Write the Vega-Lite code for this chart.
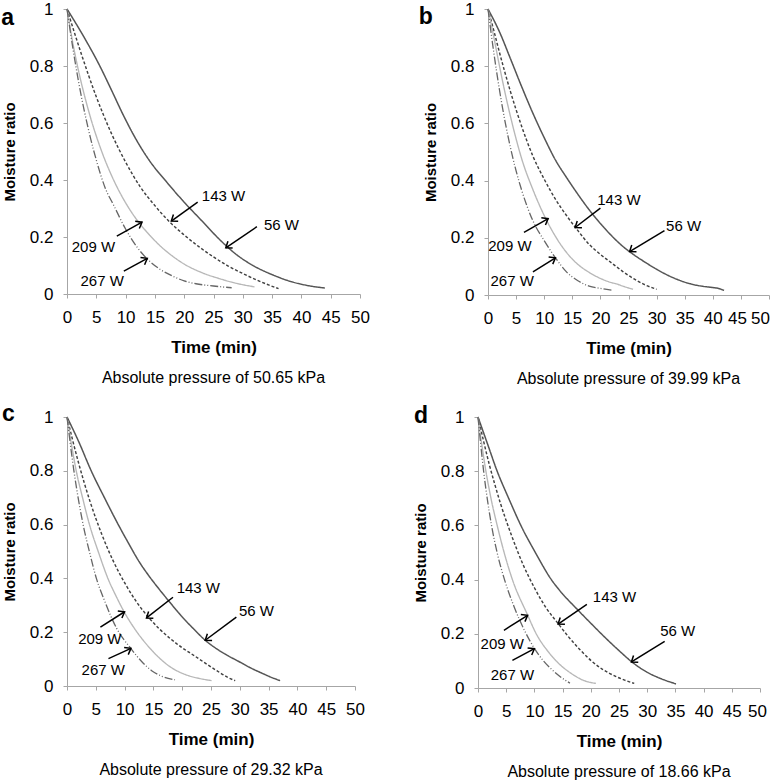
{
"$schema": "https://vega.github.io/schema/vega-lite/v6.json",
"padding": {"top": 0, "left": 1, "right": 0, "bottom": 0},
"config": {
  "font": "Liberation Sans",
  "view": {"stroke": null},
  "axis": {"grid": false, "domainColor": "#a6a6a6", "tickColor": "#a6a6a6", "tickSize": 4, "labelFontSize": 17, "labelColor": "#000", "labelFont": "Liberation Sans", "titleFont": "Liberation Sans", "titleFontSize": 17, "titleFontWeight": "bold", "titleColor": "#000", "labelFlush": false, "labelOverlap": false},
  "axisX": {"labelPadding": 11, "titlePadding": 14, "tickCount": 11, "labelOverlap": false},
  "axisY": {"labelPadding": 10, "titlePadding": 12, "titleFontSize": 15, "tickCount": 6, "labelOverlap": false},
  "title": {"font": "Liberation Sans", "fontSize": 16, "fontWeight": "normal", "color": "#000"}
},
"datasets": {
"curves": [
{"p":"a","s":"56 W","t":0,"mr":1},{"p":"a","s":"56 W","t":2.8,"mr":0.905},{"p":"a","s":"56 W","t":5.6,"mr":0.8},{"p":"a","s":"56 W","t":7.6,"mr":0.715},{"p":"a","s":"56 W","t":9.6,"mr":0.628},{"p":"a","s":"56 W","t":12,"mr":0.535},{"p":"a","s":"56 W","t":14,"mr":0.47},{"p":"a","s":"56 W","t":17,"mr":0.393},{"p":"a","s":"56 W","t":20,"mr":0.322},{"p":"a","s":"56 W","t":23,"mr":0.257},{"p":"a","s":"56 W","t":26,"mr":0.192},{"p":"a","s":"56 W","t":29,"mr":0.137},{"p":"a","s":"56 W","t":32,"mr":0.097},{"p":"a","s":"56 W","t":35,"mr":0.068},{"p":"a","s":"56 W","t":38,"mr":0.045},{"p":"a","s":"56 W","t":41,"mr":0.03},{"p":"a","s":"56 W","t":44,"mr":0.021},
{"p":"a","s":"143 W","t":0,"mr":1},{"p":"a","s":"143 W","t":2.5,"mr":0.839},{"p":"a","s":"143 W","t":5,"mr":0.692},{"p":"a","s":"143 W","t":7.5,"mr":0.567},{"p":"a","s":"143 W","t":10,"mr":0.463},{"p":"a","s":"143 W","t":12.5,"mr":0.376},{"p":"a","s":"143 W","t":15,"mr":0.31},{"p":"a","s":"143 W","t":17.5,"mr":0.253},{"p":"a","s":"143 W","t":20,"mr":0.207},{"p":"a","s":"143 W","t":22.5,"mr":0.166},{"p":"a","s":"143 W","t":25,"mr":0.13},{"p":"a","s":"143 W","t":27.5,"mr":0.098},{"p":"a","s":"143 W","t":30,"mr":0.072},{"p":"a","s":"143 W","t":32.5,"mr":0.048},{"p":"a","s":"143 W","t":34.5,"mr":0.031},{"p":"a","s":"143 W","t":36.1,"mr":0.019},
{"p":"a","s":"209 W","t":0,"mr":1},{"p":"a","s":"209 W","t":1,"mr":0.88},{"p":"a","s":"209 W","t":2,"mr":0.78},{"p":"a","s":"209 W","t":3,"mr":0.695},{"p":"a","s":"209 W","t":4,"mr":0.62},{"p":"a","s":"209 W","t":6,"mr":0.496},{"p":"a","s":"209 W","t":8,"mr":0.398},{"p":"a","s":"209 W","t":10,"mr":0.32},{"p":"a","s":"209 W","t":12,"mr":0.258},{"p":"a","s":"209 W","t":14,"mr":0.209},{"p":"a","s":"209 W","t":16,"mr":0.167},{"p":"a","s":"209 W","t":18,"mr":0.133},{"p":"a","s":"209 W","t":20,"mr":0.105},{"p":"a","s":"209 W","t":23,"mr":0.075},{"p":"a","s":"209 W","t":26,"mr":0.054},{"p":"a","s":"209 W","t":29,"mr":0.037},{"p":"a","s":"209 W","t":32,"mr":0.025},
{"p":"a","s":"267 W","t":0,"mr":1},{"p":"a","s":"267 W","t":1,"mr":0.863},{"p":"a","s":"267 W","t":2,"mr":0.742},{"p":"a","s":"267 W","t":3,"mr":0.638},{"p":"a","s":"267 W","t":4,"mr":0.548},{"p":"a","s":"267 W","t":5,"mr":0.47},{"p":"a","s":"267 W","t":6.5,"mr":0.373},{"p":"a","s":"267 W","t":8,"mr":0.31},{"p":"a","s":"267 W","t":10,"mr":0.228},{"p":"a","s":"267 W","t":12,"mr":0.163},{"p":"a","s":"267 W","t":14,"mr":0.117},{"p":"a","s":"267 W","t":16,"mr":0.085},{"p":"a","s":"267 W","t":18,"mr":0.063},{"p":"a","s":"267 W","t":20,"mr":0.046},{"p":"a","s":"267 W","t":22,"mr":0.036},{"p":"a","s":"267 W","t":25,"mr":0.028},{"p":"a","s":"267 W","t":28.1,"mr":0.022},
{"p":"b","s":"56 W","t":0,"mr":1},{"p":"b","s":"56 W","t":2,"mr":0.922},{"p":"b","s":"56 W","t":4,"mr":0.826},{"p":"b","s":"56 W","t":6,"mr":0.728},{"p":"b","s":"56 W","t":8,"mr":0.635},{"p":"b","s":"56 W","t":10,"mr":0.55},{"p":"b","s":"56 W","t":12,"mr":0.472},{"p":"b","s":"56 W","t":14,"mr":0.41},{"p":"b","s":"56 W","t":16,"mr":0.352},{"p":"b","s":"56 W","t":18,"mr":0.298},{"p":"b","s":"56 W","t":20,"mr":0.25},{"p":"b","s":"56 W","t":22,"mr":0.207},{"p":"b","s":"56 W","t":24,"mr":0.17},{"p":"b","s":"56 W","t":26,"mr":0.14},{"p":"b","s":"56 W","t":28,"mr":0.114},{"p":"b","s":"56 W","t":30,"mr":0.09},{"p":"b","s":"56 W","t":32,"mr":0.069},{"p":"b","s":"56 W","t":34,"mr":0.052},{"p":"b","s":"56 W","t":36,"mr":0.039},{"p":"b","s":"56 W","t":38,"mr":0.031},{"p":"b","s":"56 W","t":40,"mr":0.026},{"p":"b","s":"56 W","t":41,"mr":0.023},{"p":"b","s":"56 W","t":42,"mr":0.016},
{"p":"b","s":"143 W","t":0,"mr":1},{"p":"b","s":"143 W","t":1,"mr":0.927},{"p":"b","s":"143 W","t":2,"mr":0.851},{"p":"b","s":"143 W","t":3,"mr":0.779},{"p":"b","s":"143 W","t":4,"mr":0.711},{"p":"b","s":"143 W","t":6,"mr":0.589},{"p":"b","s":"143 W","t":8,"mr":0.485},{"p":"b","s":"143 W","t":10,"mr":0.405},{"p":"b","s":"143 W","t":12,"mr":0.335},{"p":"b","s":"143 W","t":14,"mr":0.277},{"p":"b","s":"143 W","t":16,"mr":0.225},{"p":"b","s":"143 W","t":18,"mr":0.177},{"p":"b","s":"143 W","t":20,"mr":0.142},{"p":"b","s":"143 W","t":22,"mr":0.112},{"p":"b","s":"143 W","t":24,"mr":0.082},{"p":"b","s":"143 W","t":26,"mr":0.056},{"p":"b","s":"143 W","t":28,"mr":0.035},{"p":"b","s":"143 W","t":30,"mr":0.02},
{"p":"b","s":"209 W","t":0,"mr":1},{"p":"b","s":"209 W","t":1,"mr":0.905},{"p":"b","s":"209 W","t":2,"mr":0.805},{"p":"b","s":"209 W","t":3,"mr":0.71},{"p":"b","s":"209 W","t":4,"mr":0.624},{"p":"b","s":"209 W","t":5,"mr":0.546},{"p":"b","s":"209 W","t":6,"mr":0.476},{"p":"b","s":"209 W","t":8,"mr":0.368},{"p":"b","s":"209 W","t":10,"mr":0.278},{"p":"b","s":"209 W","t":12,"mr":0.205},{"p":"b","s":"209 W","t":14,"mr":0.148},{"p":"b","s":"209 W","t":16,"mr":0.107},{"p":"b","s":"209 W","t":18,"mr":0.079},{"p":"b","s":"209 W","t":20,"mr":0.058},{"p":"b","s":"209 W","t":22,"mr":0.043},{"p":"b","s":"209 W","t":23,"mr":0.038},{"p":"b","s":"209 W","t":24,"mr":0.031},{"p":"b","s":"209 W","t":25.8,"mr":0.02},
{"p":"b","s":"267 W","t":0,"mr":1},{"p":"b","s":"267 W","t":1,"mr":0.852},{"p":"b","s":"267 W","t":2,"mr":0.722},{"p":"b","s":"267 W","t":3,"mr":0.61},{"p":"b","s":"267 W","t":4,"mr":0.515},{"p":"b","s":"267 W","t":5,"mr":0.434},{"p":"b","s":"267 W","t":6,"mr":0.366},{"p":"b","s":"267 W","t":8,"mr":0.259},{"p":"b","s":"267 W","t":10,"mr":0.19},{"p":"b","s":"267 W","t":12,"mr":0.13},{"p":"b","s":"267 W","t":14,"mr":0.08},{"p":"b","s":"267 W","t":16,"mr":0.05},{"p":"b","s":"267 W","t":18,"mr":0.031},{"p":"b","s":"267 W","t":20,"mr":0.023},{"p":"b","s":"267 W","t":22,"mr":0.017},
{"p":"c","s":"56 W","t":0,"mr":1},{"p":"c","s":"56 W","t":2,"mr":0.91},{"p":"c","s":"56 W","t":4.2,"mr":0.8},{"p":"c","s":"56 W","t":6.5,"mr":0.7},{"p":"c","s":"56 W","t":8.9,"mr":0.6},{"p":"c","s":"56 W","t":10.7,"mr":0.53},{"p":"c","s":"56 W","t":12.5,"mr":0.463},{"p":"c","s":"56 W","t":14.2,"mr":0.41},{"p":"c","s":"56 W","t":15.85,"mr":0.364},{"p":"c","s":"56 W","t":17.9,"mr":0.31},{"p":"c","s":"56 W","t":19.9,"mr":0.259},{"p":"c","s":"56 W","t":22,"mr":0.212},{"p":"c","s":"56 W","t":24,"mr":0.17},{"p":"c","s":"56 W","t":26,"mr":0.138},{"p":"c","s":"56 W","t":28,"mr":0.112},{"p":"c","s":"56 W","t":29.75,"mr":0.092},{"p":"c","s":"56 W","t":32,"mr":0.066},{"p":"c","s":"56 W","t":33.8,"mr":0.048},{"p":"c","s":"56 W","t":35.5,"mr":0.032},{"p":"c","s":"56 W","t":37,"mr":0.02},
{"p":"c","s":"143 W","t":0,"mr":1},{"p":"c","s":"143 W","t":1,"mr":0.912},{"p":"c","s":"143 W","t":2,"mr":0.83},{"p":"c","s":"143 W","t":3,"mr":0.755},{"p":"c","s":"143 W","t":4,"mr":0.686},{"p":"c","s":"143 W","t":6,"mr":0.566},{"p":"c","s":"143 W","t":8,"mr":0.466},{"p":"c","s":"143 W","t":10,"mr":0.384},{"p":"c","s":"143 W","t":12,"mr":0.315},{"p":"c","s":"143 W","t":14,"mr":0.259},{"p":"c","s":"143 W","t":16,"mr":0.213},{"p":"c","s":"143 W","t":18,"mr":0.175},{"p":"c","s":"143 W","t":20,"mr":0.142},{"p":"c","s":"143 W","t":22,"mr":0.114},{"p":"c","s":"143 W","t":24,"mr":0.085},{"p":"c","s":"143 W","t":26,"mr":0.057},{"p":"c","s":"143 W","t":28,"mr":0.031},{"p":"c","s":"143 W","t":29.2,"mr":0.02},
{"p":"c","s":"209 W","t":0,"mr":1},{"p":"c","s":"209 W","t":1,"mr":0.87},{"p":"c","s":"209 W","t":1.6,"mr":0.8},{"p":"c","s":"209 W","t":2.7,"mr":0.7},{"p":"c","s":"209 W","t":3.9,"mr":0.6},{"p":"c","s":"209 W","t":5.5,"mr":0.495},{"p":"c","s":"209 W","t":7.1,"mr":0.4},{"p":"c","s":"209 W","t":8.5,"mr":0.335},{"p":"c","s":"209 W","t":10.07,"mr":0.27},{"p":"c","s":"209 W","t":12,"mr":0.205},{"p":"c","s":"209 W","t":14,"mr":0.15},{"p":"c","s":"209 W","t":16,"mr":0.105},{"p":"c","s":"209 W","t":18,"mr":0.07},{"p":"c","s":"209 W","t":20.5,"mr":0.043},{"p":"c","s":"209 W","t":23,"mr":0.028},{"p":"c","s":"209 W","t":25.1,"mr":0.02},
{"p":"c","s":"267 W","t":0,"mr":1},{"p":"c","s":"267 W","t":1.2,"mr":0.8},{"p":"c","s":"267 W","t":2.8,"mr":0.6},{"p":"c","s":"267 W","t":4,"mr":0.49},{"p":"c","s":"267 W","t":5.1,"mr":0.4},{"p":"c","s":"267 W","t":6.5,"mr":0.318},{"p":"c","s":"267 W","t":8.6,"mr":0.215},{"p":"c","s":"267 W","t":11.1,"mr":0.139},{"p":"c","s":"267 W","t":13,"mr":0.09},{"p":"c","s":"267 W","t":14.7,"mr":0.057},{"p":"c","s":"267 W","t":16.5,"mr":0.036},{"p":"c","s":"267 W","t":18.75,"mr":0.023},
{"p":"d","s":"56 W","t":0,"mr":1},{"p":"d","s":"56 W","t":1.7,"mr":0.9},{"p":"d","s":"56 W","t":3.4,"mr":0.8},{"p":"d","s":"56 W","t":5.5,"mr":0.697},{"p":"d","s":"56 W","t":7.6,"mr":0.6},{"p":"d","s":"56 W","t":10.3,"mr":0.495},{"p":"d","s":"56 W","t":13,"mr":0.4},{"p":"d","s":"56 W","t":14.4,"mr":0.362},{"p":"d","s":"56 W","t":17.7,"mr":0.288},{"p":"d","s":"56 W","t":20,"mr":0.239},{"p":"d","s":"56 W","t":22.5,"mr":0.187},{"p":"d","s":"56 W","t":25,"mr":0.138},{"p":"d","s":"56 W","t":27.3,"mr":0.096},{"p":"d","s":"56 W","t":30,"mr":0.058},{"p":"d","s":"56 W","t":32.5,"mr":0.034},{"p":"d","s":"56 W","t":35.1,"mr":0.015},
{"p":"d","s":"143 W","t":0,"mr":1},{"p":"d","s":"143 W","t":1,"mr":0.91},{"p":"d","s":"143 W","t":2,"mr":0.825},{"p":"d","s":"143 W","t":3,"mr":0.75},{"p":"d","s":"143 W","t":4,"mr":0.68},{"p":"d","s":"143 W","t":6,"mr":0.56},{"p":"d","s":"143 W","t":8,"mr":0.455},{"p":"d","s":"143 W","t":10,"mr":0.37},{"p":"d","s":"143 W","t":12,"mr":0.298},{"p":"d","s":"143 W","t":14.2,"mr":0.238},{"p":"d","s":"143 W","t":16,"mr":0.19},{"p":"d","s":"143 W","t":18,"mr":0.143},{"p":"d","s":"143 W","t":20,"mr":0.102},{"p":"d","s":"143 W","t":22,"mr":0.07},{"p":"d","s":"143 W","t":24.5,"mr":0.042},{"p":"d","s":"143 W","t":26,"mr":0.029},{"p":"d","s":"143 W","t":27.7,"mr":0.017},
{"p":"d","s":"209 W","t":0,"mr":1},{"p":"d","s":"209 W","t":1.4,"mr":0.8},{"p":"d","s":"209 W","t":2.3,"mr":0.7},{"p":"d","s":"209 W","t":3.4,"mr":0.6},{"p":"d","s":"209 W","t":4.7,"mr":0.495},{"p":"d","s":"209 W","t":6.1,"mr":0.4},{"p":"d","s":"209 W","t":8.8,"mr":0.269},{"p":"d","s":"209 W","t":10.2,"mr":0.205},{"p":"d","s":"209 W","t":12.6,"mr":0.13},{"p":"d","s":"209 W","t":14.1,"mr":0.095},{"p":"d","s":"209 W","t":16.8,"mr":0.05},{"p":"d","s":"209 W","t":18.5,"mr":0.03},{"p":"d","s":"209 W","t":20.9,"mr":0.017},
{"p":"d","s":"267 W","t":0,"mr":1},{"p":"d","s":"267 W","t":1,"mr":0.8},{"p":"d","s":"267 W","t":2.4,"mr":0.6},{"p":"d","s":"267 W","t":3.5,"mr":0.49},{"p":"d","s":"267 W","t":4.7,"mr":0.4},{"p":"d","s":"267 W","t":6.4,"mr":0.3},{"p":"d","s":"267 W","t":8.3,"mr":0.21},{"p":"d","s":"267 W","t":10,"mr":0.146},{"p":"d","s":"267 W","t":11.6,"mr":0.1},{"p":"d","s":"267 W","t":13.2,"mr":0.066},{"p":"d","s":"267 W","t":14.7,"mr":0.04},{"p":"d","s":"267 W","t":16.3,"mr":0.018}
],
"notes": [
{"p":"a","label":"143 W","lx":26.7,"ly":0.343,"x1":22.3,"y1":0.322,"x2":17.8,"y2":0.256,"dir":"dl"},
{"p":"a","label":"56 W","lx":36.6,"ly":0.243,"x1":32.4,"y1":0.236,"x2":27.1,"y2":0.162,"dir":"dl"},
{"p":"a","label":"209 W","lx":4.5,"ly":0.164,"x1":8.5,"y1":0.203,"x2":12.8,"y2":0.252,"dir":"ur"},
{"p":"a","label":"267 W","lx":6.0,"ly":0.047,"x1":9.7,"y1":0.08,"x2":13.7,"y2":0.125,"dir":"ur"},
{"p":"b","label":"143 W","lx":23.3,"ly":0.333,"x1":20.0,"y1":0.304,"x2":15.5,"y2":0.236,"dir":"dl"},
{"p":"b","label":"56 W","lx":34.8,"ly":0.24,"x1":31.4,"y1":0.225,"x2":25.2,"y2":0.152,"dir":"dl"},
{"p":"b","label":"209 W","lx":3.9,"ly":0.173,"x1":6.4,"y1":0.219,"x2":10.7,"y2":0.267,"dir":"ur"},
{"p":"b","label":"267 W","lx":4.3,"ly":0.049,"x1":8.0,"y1":0.081,"x2":12.0,"y2":0.13,"dir":"ur"},
{"p":"c","label":"143 W","lx":22.8,"ly":0.364,"x1":18.4,"y1":0.33,"x2":13.8,"y2":0.253,"dir":"dl"},
{"p":"c","label":"56 W","lx":32.9,"ly":0.278,"x1":29.4,"y1":0.256,"x2":24.0,"y2":0.17,"dir":"dl"},
{"p":"c","label":"209 W","lx":5.7,"ly":0.175,"x1":5.8,"y1":0.219,"x2":10.0,"y2":0.276,"dir":"ur"},
{"p":"c","label":"267 W","lx":6.3,"ly":0.059,"x1":7.2,"y1":0.102,"x2":11.1,"y2":0.14,"dir":"ur"},
{"p":"d","label":"143 W","lx":24.2,"ly":0.336,"x1":19.3,"y1":0.309,"x2":14.2,"y2":0.236,"dir":"dl"},
{"p":"d","label":"56 W","lx":35.4,"ly":0.21,"x1":33.1,"y1":0.172,"x2":27.2,"y2":0.096,"dir":"dl"},
{"p":"d","label":"209 W","lx":4.3,"ly":0.164,"x1":4.6,"y1":0.213,"x2":8.8,"y2":0.268,"dir":"ur"},
{"p":"d","label":"267 W","lx":6.1,"ly":0.047,"x1":6.1,"y1":0.102,"x2":10.0,"y2":0.145,"dir":"ur"}
],
"tags": [
{"p":"a","tag":"a","x":-11.2,"y":0.945},
{"p":"b","tag":"b","x":-12.3,"y":0.948},
{"p":"c","tag":"c","x":-11.3,"y":0.985},
{"p":"d","tag":"d","x":-11.35,"y":0.978}
]
},
"resolve": {"scale": {"x": "independent", "y": "independent"}},
"spacing": 16,
"vconcat": [
{"hconcat": [
{"width": 293, "height": 285,
 "title": {"text": "Absolute pressure of 50.65 kPa", "orient": "bottom", "anchor": "middle", "frame": "group", "offset": 15},
 "layer": [
  {"data": {"name": "curves"}, "transform": [{"filter": "datum.p === 'a'"}],
   "mark": {"type": "line", "interpolate": "monotone"},
   "encoding": {
    "x": {"field": "t", "type": "quantitative", "title": "Time (min)", "scale": {"domain": [0, 50], "nice": false}},
    "y": {"field": "mr", "type": "quantitative", "title": "Moisture ratio", "scale": {"domain": [0, 1], "nice": false}, "axis": {"format": "~g"}},
    "detail": {"field": "s"},
    "color": {"field": "s", "type": "nominal", "legend": null, "scale": {"domain": ["56 W","143 W","209 W","267 W"], "range": ["#555555","#404040","#b8b8b8","#666666"]}},
    "strokeDash": {"field": "s", "type": "nominal", "legend": null, "scale": {"domain": ["56 W","143 W","209 W","267 W"], "range": [[1,0],[3,2],[1,0],[8,2,1,2,1,2]]}},
    "strokeWidth": {"field": "s", "type": "nominal", "legend": null, "scale": {"domain": ["56 W","143 W","209 W","267 W"], "range": [1.5,1.3,1.1,1.4]}}
   }},
  {"data": {"name": "notes"}, "transform": [{"filter": "datum.p === 'a'"}],
   "mark": {"type": "rule", "color": "#000", "strokeWidth": 1.5},
   "encoding": {"x": {"field": "x1", "type": "quantitative", "title": "Time (min)"}, "y": {"field": "y1", "type": "quantitative", "title": "Moisture ratio", "axis": {"format": "~g"}}, "x2": {"field": "x2"}, "y2": {"field": "y2"}}},
  {"data": {"name": "notes"}, "transform": [{"filter": "datum.p === 'a' && datum.dir === 'dl'"}],
   "mark": {"type": "point", "shape": "M-1,-0.75L0,0L-1,0.75", "filled": false, "stroke": "#000", "strokeWidth": 1.5, "size": 120, "angle": 145, "opacity": 1},
   "encoding": {"x": {"field": "x2", "type": "quantitative", "title": "Time (min)"}, "y": {"field": "y2", "type": "quantitative", "title": "Moisture ratio", "axis": {"format": "~g"}}}},
  {"data": {"name": "notes"}, "transform": [{"filter": "datum.p === 'a' && datum.dir === 'ur'"}],
   "mark": {"type": "point", "shape": "M-1,-0.75L0,0L-1,0.75", "filled": false, "stroke": "#000", "strokeWidth": 1.5, "size": 120, "angle": 330, "opacity": 1},
   "encoding": {"x": {"field": "x2", "type": "quantitative", "title": "Time (min)"}, "y": {"field": "y2", "type": "quantitative", "title": "Moisture ratio", "axis": {"format": "~g"}}}},
  {"data": {"name": "notes"}, "transform": [{"filter": "datum.p === 'a'"}],
   "mark": {"type": "text", "fontSize": 15, "color": "#000"},
   "encoding": {"x": {"field": "lx", "type": "quantitative", "title": "Time (min)"}, "y": {"field": "ly", "type": "quantitative", "title": "Moisture ratio", "axis": {"format": "~g"}}, "text": {"field": "label"}}},
  {"data": {"name": "tags"}, "transform": [{"filter": "datum.p === 'a'"}],
   "mark": {"type": "text", "fontSize": 23, "fontWeight": "bold", "align": "left", "baseline": "alphabetic", "color": "#000"},
   "encoding": {"x": {"field": "x", "type": "quantitative", "title": "Time (min)"}, "y": {"field": "y", "type": "quantitative", "title": "Moisture ratio", "axis": {"format": "~g"}}, "text": {"field": "tag"}}}
 ]},
{"width": 281, "height": 286,
 "title": {"text": "Absolute pressure of 39.99 kPa", "orient": "bottom", "anchor": "middle", "frame": "group", "offset": 15},
 "layer": [
  {"data": {"name": "curves"}, "transform": [{"filter": "datum.p === 'b'"}],
   "mark": {"type": "line", "interpolate": "monotone"},
   "encoding": {
    "x": {"field": "t", "type": "quantitative", "title": "Time (min)", "scale": {"domain": [0, 50], "nice": false}, "axis": {"labelOffset": {"condition": [{"test": "datum.value >= 50", "value": -9}, {"test": "datum.value >= 45", "value": -4}], "value": 0}}},
    "y": {"field": "mr", "type": "quantitative", "title": "Moisture ratio", "scale": {"domain": [0, 1], "nice": false}, "axis": {"format": "~g"}},
    "detail": {"field": "s"},
    "color": {"field": "s", "type": "nominal", "legend": null, "scale": {"domain": ["56 W","143 W","209 W","267 W"], "range": ["#555555","#404040","#b8b8b8","#666666"]}},
    "strokeDash": {"field": "s", "type": "nominal", "legend": null, "scale": {"domain": ["56 W","143 W","209 W","267 W"], "range": [[1,0],[3,2],[1,0],[8,2,1,2,1,2]]}},
    "strokeWidth": {"field": "s", "type": "nominal", "legend": null, "scale": {"domain": ["56 W","143 W","209 W","267 W"], "range": [1.5,1.3,1.1,1.4]}}
   }},
  {"data": {"name": "notes"}, "transform": [{"filter": "datum.p === 'b'"}],
   "mark": {"type": "rule", "color": "#000", "strokeWidth": 1.5},
   "encoding": {"x": {"field": "x1", "type": "quantitative", "title": "Time (min)", "axis": {"labelOffset": {"condition": [{"test": "datum.value >= 50", "value": -9}, {"test": "datum.value >= 45", "value": -4}], "value": 0}}}, "y": {"field": "y1", "type": "quantitative", "title": "Moisture ratio", "axis": {"format": "~g"}}, "x2": {"field": "x2"}, "y2": {"field": "y2"}}},
  {"data": {"name": "notes"}, "transform": [{"filter": "datum.p === 'b' && datum.dir === 'dl'"}],
   "mark": {"type": "point", "shape": "M-1,-0.75L0,0L-1,0.75", "filled": false, "stroke": "#000", "strokeWidth": 1.5, "size": 120, "angle": 145, "opacity": 1},
   "encoding": {"x": {"field": "x2", "type": "quantitative", "title": "Time (min)", "axis": {"labelOffset": {"condition": [{"test": "datum.value >= 50", "value": -9}, {"test": "datum.value >= 45", "value": -4}], "value": 0}}}, "y": {"field": "y2", "type": "quantitative", "title": "Moisture ratio", "axis": {"format": "~g"}}}},
  {"data": {"name": "notes"}, "transform": [{"filter": "datum.p === 'b' && datum.dir === 'ur'"}],
   "mark": {"type": "point", "shape": "M-1,-0.75L0,0L-1,0.75", "filled": false, "stroke": "#000", "strokeWidth": 1.5, "size": 120, "angle": 330, "opacity": 1},
   "encoding": {"x": {"field": "x2", "type": "quantitative", "title": "Time (min)", "axis": {"labelOffset": {"condition": [{"test": "datum.value >= 50", "value": -9}, {"test": "datum.value >= 45", "value": -4}], "value": 0}}}, "y": {"field": "y2", "type": "quantitative", "title": "Moisture ratio", "axis": {"format": "~g"}}}},
  {"data": {"name": "notes"}, "transform": [{"filter": "datum.p === 'b'"}],
   "mark": {"type": "text", "fontSize": 15, "color": "#000"},
   "encoding": {"x": {"field": "lx", "type": "quantitative", "title": "Time (min)", "axis": {"labelOffset": {"condition": [{"test": "datum.value >= 50", "value": -9}, {"test": "datum.value >= 45", "value": -4}], "value": 0}}}, "y": {"field": "ly", "type": "quantitative", "title": "Moisture ratio", "axis": {"format": "~g"}}, "text": {"field": "label"}}},
  {"data": {"name": "tags"}, "transform": [{"filter": "datum.p === 'b'"}],
   "mark": {"type": "text", "fontSize": 23, "fontWeight": "bold", "align": "left", "baseline": "alphabetic", "color": "#000"},
   "encoding": {"x": {"field": "x", "type": "quantitative", "title": "Time (min)", "axis": {"labelOffset": {"condition": [{"test": "datum.value >= 50", "value": -9}, {"test": "datum.value >= 45", "value": -4}], "value": 0}}}, "y": {"field": "y", "type": "quantitative", "title": "Moisture ratio", "axis": {"format": "~g"}}, "text": {"field": "tag"}}}
 ]}
], "spacing": 48, "resolve": {"scale": {"x": "independent", "y": "independent"}}},
{"hconcat": [
{"width": 288, "height": 269,
 "title": {"text": "Absolute pressure of 29.32 kPa", "orient": "bottom", "anchor": "middle", "frame": "group", "offset": 15},
 "layer": [
  {"data": {"name": "curves"}, "transform": [{"filter": "datum.p === 'c'"}],
   "mark": {"type": "line", "interpolate": "monotone"},
   "encoding": {
    "x": {"field": "t", "type": "quantitative", "title": "Time (min)", "scale": {"domain": [0, 50], "nice": false}},
    "y": {"field": "mr", "type": "quantitative", "title": "Moisture ratio", "scale": {"domain": [0, 1], "nice": false}, "axis": {"format": "~g"}},
    "detail": {"field": "s"},
    "color": {"field": "s", "type": "nominal", "legend": null, "scale": {"domain": ["56 W","143 W","209 W","267 W"], "range": ["#555555","#404040","#b8b8b8","#666666"]}},
    "strokeDash": {"field": "s", "type": "nominal", "legend": null, "scale": {"domain": ["56 W","143 W","209 W","267 W"], "range": [[1,0],[3,2],[1,0],[8,2,1,2,1,2]]}},
    "strokeWidth": {"field": "s", "type": "nominal", "legend": null, "scale": {"domain": ["56 W","143 W","209 W","267 W"], "range": [1.5,1.3,1.1,1.4]}}
   }},
  {"data": {"name": "notes"}, "transform": [{"filter": "datum.p === 'c'"}],
   "mark": {"type": "rule", "color": "#000", "strokeWidth": 1.5},
   "encoding": {"x": {"field": "x1", "type": "quantitative", "title": "Time (min)"}, "y": {"field": "y1", "type": "quantitative", "title": "Moisture ratio", "axis": {"format": "~g"}}, "x2": {"field": "x2"}, "y2": {"field": "y2"}}},
  {"data": {"name": "notes"}, "transform": [{"filter": "datum.p === 'c' && datum.dir === 'dl'"}],
   "mark": {"type": "point", "shape": "M-1,-0.75L0,0L-1,0.75", "filled": false, "stroke": "#000", "strokeWidth": 1.5, "size": 120, "angle": 145, "opacity": 1},
   "encoding": {"x": {"field": "x2", "type": "quantitative", "title": "Time (min)"}, "y": {"field": "y2", "type": "quantitative", "title": "Moisture ratio", "axis": {"format": "~g"}}}},
  {"data": {"name": "notes"}, "transform": [{"filter": "datum.p === 'c' && datum.dir === 'ur'"}],
   "mark": {"type": "point", "shape": "M-1,-0.75L0,0L-1,0.75", "filled": false, "stroke": "#000", "strokeWidth": 1.5, "size": 120, "angle": 330, "opacity": 1},
   "encoding": {"x": {"field": "x2", "type": "quantitative", "title": "Time (min)"}, "y": {"field": "y2", "type": "quantitative", "title": "Moisture ratio", "axis": {"format": "~g"}}}},
  {"data": {"name": "notes"}, "transform": [{"filter": "datum.p === 'c'"}],
   "mark": {"type": "text", "fontSize": 15, "color": "#000"},
   "encoding": {"x": {"field": "lx", "type": "quantitative", "title": "Time (min)"}, "y": {"field": "ly", "type": "quantitative", "title": "Moisture ratio", "axis": {"format": "~g"}}, "text": {"field": "label"}}},
  {"data": {"name": "tags"}, "transform": [{"filter": "datum.p === 'c'"}],
   "mark": {"type": "text", "fontSize": 23, "fontWeight": "bold", "align": "left", "baseline": "alphabetic", "color": "#000"},
   "encoding": {"x": {"field": "x", "type": "quantitative", "title": "Time (min)"}, "y": {"field": "y", "type": "quantitative", "title": "Moisture ratio", "axis": {"format": "~g"}}, "text": {"field": "tag"}}}
 ]},
{"width": 282, "height": 271,
 "title": {"text": "Absolute pressure of 18.66 kPa", "orient": "bottom", "anchor": "middle", "frame": "group", "offset": 15},
 "layer": [
  {"data": {"name": "curves"}, "transform": [{"filter": "datum.p === 'd'"}],
   "mark": {"type": "line", "interpolate": "monotone"},
   "encoding": {
    "x": {"field": "t", "type": "quantitative", "title": "Time (min)", "scale": {"domain": [0, 50], "nice": false}, "axis": {"labelOffset": {"condition": {"test": "datum.value >= 50", "value": -3}, "value": 0}}},
    "y": {"field": "mr", "type": "quantitative", "title": "Moisture ratio", "scale": {"domain": [0, 1], "nice": false}, "axis": {"format": "~g"}},
    "detail": {"field": "s"},
    "color": {"field": "s", "type": "nominal", "legend": null, "scale": {"domain": ["56 W","143 W","209 W","267 W"], "range": ["#555555","#404040","#b8b8b8","#666666"]}},
    "strokeDash": {"field": "s", "type": "nominal", "legend": null, "scale": {"domain": ["56 W","143 W","209 W","267 W"], "range": [[1,0],[3,2],[1,0],[8,2,1,2,1,2]]}},
    "strokeWidth": {"field": "s", "type": "nominal", "legend": null, "scale": {"domain": ["56 W","143 W","209 W","267 W"], "range": [1.5,1.3,1.1,1.4]}}
   }},
  {"data": {"name": "notes"}, "transform": [{"filter": "datum.p === 'd'"}],
   "mark": {"type": "rule", "color": "#000", "strokeWidth": 1.5},
   "encoding": {"x": {"field": "x1", "type": "quantitative", "title": "Time (min)", "axis": {"labelOffset": {"condition": {"test": "datum.value >= 50", "value": -3}, "value": 0}}}, "y": {"field": "y1", "type": "quantitative", "title": "Moisture ratio", "axis": {"format": "~g"}}, "x2": {"field": "x2"}, "y2": {"field": "y2"}}},
  {"data": {"name": "notes"}, "transform": [{"filter": "datum.p === 'd' && datum.dir === 'dl'"}],
   "mark": {"type": "point", "shape": "M-1,-0.75L0,0L-1,0.75", "filled": false, "stroke": "#000", "strokeWidth": 1.5, "size": 120, "angle": 145, "opacity": 1},
   "encoding": {"x": {"field": "x2", "type": "quantitative", "title": "Time (min)", "axis": {"labelOffset": {"condition": {"test": "datum.value >= 50", "value": -3}, "value": 0}}}, "y": {"field": "y2", "type": "quantitative", "title": "Moisture ratio", "axis": {"format": "~g"}}}},
  {"data": {"name": "notes"}, "transform": [{"filter": "datum.p === 'd' && datum.dir === 'ur'"}],
   "mark": {"type": "point", "shape": "M-1,-0.75L0,0L-1,0.75", "filled": false, "stroke": "#000", "strokeWidth": 1.5, "size": 120, "angle": 330, "opacity": 1},
   "encoding": {"x": {"field": "x2", "type": "quantitative", "title": "Time (min)", "axis": {"labelOffset": {"condition": {"test": "datum.value >= 50", "value": -3}, "value": 0}}}, "y": {"field": "y2", "type": "quantitative", "title": "Moisture ratio", "axis": {"format": "~g"}}}},
  {"data": {"name": "notes"}, "transform": [{"filter": "datum.p === 'd'"}],
   "mark": {"type": "text", "fontSize": 15, "color": "#000"},
   "encoding": {"x": {"field": "lx", "type": "quantitative", "title": "Time (min)", "axis": {"labelOffset": {"condition": {"test": "datum.value >= 50", "value": -3}, "value": 0}}}, "y": {"field": "ly", "type": "quantitative", "title": "Moisture ratio", "axis": {"format": "~g"}}, "text": {"field": "label"}}},
  {"data": {"name": "tags"}, "transform": [{"filter": "datum.p === 'd'"}],
   "mark": {"type": "text", "fontSize": 23, "fontWeight": "bold", "align": "left", "baseline": "alphabetic", "color": "#000"},
   "encoding": {"x": {"field": "x", "type": "quantitative", "title": "Time (min)", "axis": {"labelOffset": {"condition": {"test": "datum.value >= 50", "value": -3}, "value": 0}}}, "y": {"field": "y", "type": "quantitative", "title": "Moisture ratio", "axis": {"format": "~g"}}, "text": {"field": "tag"}}}
 ]}
], "spacing": 48, "resolve": {"scale": {"x": "independent", "y": "independent"}}}
]
}
